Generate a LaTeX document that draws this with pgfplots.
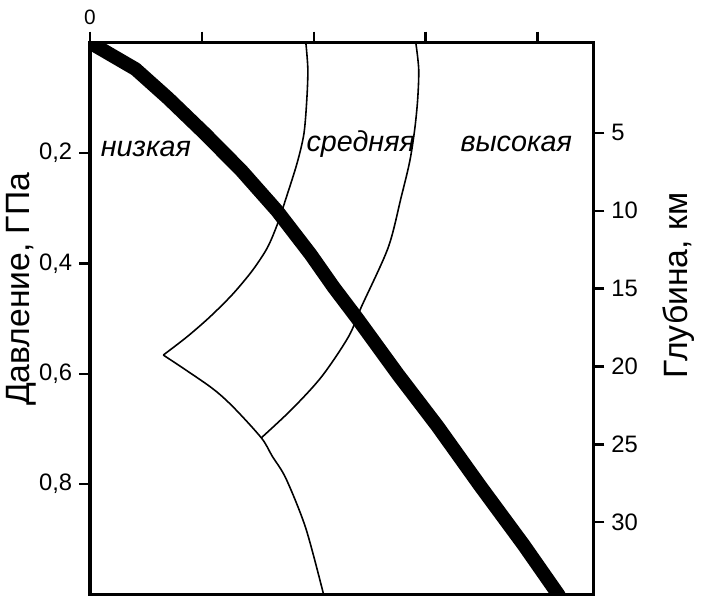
\documentclass[border=0pt]{standalone}
\usepackage{fontspec}
\setmainfont{Liberation Sans}
\usepackage{pgfplots}
\pgfplotsset{compat=1.18}
\begin{document}
\begin{tikzpicture}
\begin{axis}[name=ax, scale only axis, width=254pt, height=278.5pt,
  xmin=0, xmax=4.5, ymin=0, ymax=1, y dir=reverse,
  axis line style={line width=1.6pt},
  tick align=outside, major tick length=5.5pt, tick style={line width=1.2pt, black},
  xtick={0,1,2,3,4}, xticklabels={0,,,,}, xtick pos=right, xticklabel pos=right,
  ytick={0.2,0.4,0.6,0.8}, yticklabels={{0,2},{0,4},{0,6},{0,8}}, ytick pos=left,
  yticklabel style={font=\fontsize{12}{14}\selectfont},
  xticklabel style={font=\fontsize{10.5}{12}\selectfont},
  ylabel={Давление, ГПа},
  ylabel style={font=\fontsize{17}{20}\selectfont, at={(axis description cs:-0.136,0.553)}, anchor=center},
]
% thick geotherm
\addplot[black, line width=7pt, line join=round, line cap=round] coordinates {
 (0,0) (0.407,0.048) (0.699,0.101) (1.027,0.165) (1.354,0.232) (1.673,0.305)
 (1.973,0.384) (2.177,0.443) (2.39,0.500) (2.752,0.601) (3.106,0.695)
 (3.487,0.803) (3.876,0.910) (4.186,1.0) (4.21,1.01)};
% boundary A upper part (to cusp)
\addplot[black, line width=0.8pt, smooth, tension=0.5] coordinates {
 (1.929,0) (1.947,0.048) (1.938,0.102) (1.912,0.165) (1.850,0.219) (1.752,0.282)
 (1.673,0.330) (1.584,0.372) (1.451,0.413) (1.274,0.456) (1.071,0.497)
 (0.867,0.533) (0.655,0.566)};
% boundary A lower part (cusp to bottom)
\addplot[black, line width=0.8pt, smooth, tension=0.5] coordinates {
 (0.655,0.566) (1.071,0.623) (1.274,0.659) (1.531,0.716) (1.628,0.749)
 (1.752,0.790) (1.929,0.880) (2.088,1.0)};
% boundary B
\addplot[black, line width=0.8pt, smooth, tension=0.5] coordinates {
 (2.912,0) (2.938,0.048) (2.929,0.102) (2.903,0.156) (2.858,0.215) (2.779,0.282)
 (2.664,0.372) (2.425,0.479) (2.310,0.533) (2.071,0.605) (1.805,0.664) (1.531,0.716)};
\node[font=\itshape\fontsize{14.5}{17}\selectfont] at (axis cs:0.50,0.192) {низкая};
\node[font=\itshape\fontsize{14.5}{17}\selectfont] at (axis cs:2.42,0.183) {средняя};
\node[font=\itshape\fontsize{14.5}{17}\selectfont] at (axis cs:3.81,0.183) {высокая};
\end{axis}
\begin{axis}[scale only axis, width=254pt, height=278.5pt,
  xmin=0, xmax=4.5, ymin=-0.79, ymax=34.64, y dir=reverse,
  hide x axis, axis y line*=right,
  axis line style={line width=1.6pt, -},
  tick align=outside, major tick length=5.5pt, tick style={line width=1.2pt, black},
  ytick={5,10,15,20,25,30}, yticklabels={5,10,15,20,25,30},
  yticklabel style={font=\fontsize{12}{14}\selectfont},
  ylabel={Глубина, км},
  ylabel style={font=\fontsize{17}{20}\selectfont, at={(axis description cs:1.169,0.56)}, anchor=center},
]
\end{axis}
\path[use as bounding box] ([shift={(-44.5pt,-3.5pt)}]ax.south west) rectangle ([shift={(52pt,21.5pt)}]ax.north east);
\end{tikzpicture}
\end{document}
